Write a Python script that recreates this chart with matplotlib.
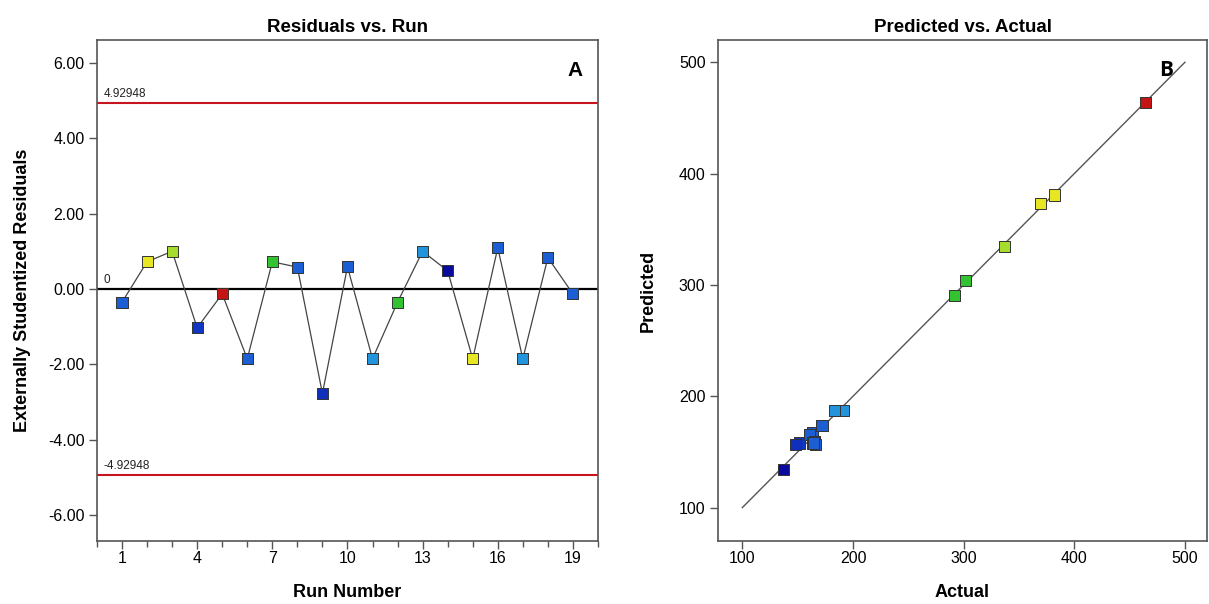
import matplotlib.pyplot as plt
from matplotlib.ticker import MultipleLocator, FixedLocator

plt.rcParams['font.family'] = ['Liberation Sans', 'DejaVu Sans']

# runs, residuals and colours (colour follows response value)
runs = list(range(1, 20))
residuals = [-0.35, 0.72, 1.00, -1.03, -0.13, -1.85, 0.72, 0.58, -2.77, 0.59,
             -1.85, -0.35, 1.00, 0.48, -1.85, 1.09, -1.85, 0.83, -0.13]
actual = [163, 382, 337, 152, 464, 161, 292, 163, 148, 165,
          184, 302, 191, 137, 369.5, 166, 183, 164, 172]
predicted = [167, 380.8, 334.5, 158, 464, 166, 290.7, 158, 157, 159,
             187, 304, 187, 134.5, 373, 157, 187, 158, 173.6]
colors = ['#1c5fd4', '#e6e622', '#a6dc2e', '#1236c4', '#c41414', '#1c5fd4',
          '#32c232', '#1c5fd4', '#1030bc', '#1c5fd4', '#2294dc', '#32c232',
          '#2294dc', '#0a0a9c', '#e6e622', '#1c5fd4', '#2294dc', '#1c5fd4',
          '#1c5fd4']
limit = 4.92948
y_ticks = [-6, -4, -2, 0, 2, 4, 6]
x_ticks = [1, 4, 7, 10, 13, 16, 19]
pa_ticks = [100, 200, 300, 400, 500]

fig = plt.figure(figsize=(12.09, 6.04), dpi=100)
ax1 = fig.add_axes([0.0802, 0.1043, 0.4144, 0.8295])
ax2 = fig.add_axes([0.5939, 0.1043, 0.4045, 0.8295])

# ---- A: residuals vs run
ax1.axhline(limit, color='#c8141e', lw=1.5, zorder=1)
ax1.axhline(-limit, color='#c8141e', lw=1.5, zorder=1)
ax1.axhline(0, color='black', lw=1.6, zorder=1)
ax1.plot(runs, residuals, color='#444444', lw=0.9, zorder=2)
ax1.scatter(runs, residuals, marker='s', s=64, c=colors, edgecolors='#333333',
            linewidths=0.7, zorder=3)
ax1.text(0.25, limit + 0.15, '4.92948', fontsize=8.5, color='#222222')
ax1.text(0.25, 0.15, '0', fontsize=8.5, color='#222222')
ax1.text(0.25, -limit + 0.15, '-4.92948', fontsize=8.5, color='#222222')
ax1.text(0.97, 0.94, 'A', transform=ax1.transAxes, fontsize=15, fontweight='bold',
         ha='right', va='center')

ax1.set_xlim(0, 20)
ax1.set_ylim(-6.68, 6.6)
ax1.xaxis.set_major_locator(FixedLocator(x_ticks))
ax1.xaxis.set_minor_locator(MultipleLocator(1))
ax1.set_yticks(y_ticks)
ax1.set_yticklabels([f'{v:.2f}' for v in y_ticks])
ax1.set_title('Residuals vs. Run', fontsize=13.5, fontweight='bold', pad=6)
ax1.set_xlabel('Run Number', fontsize=13, fontweight='bold', labelpad=13)
ax1.set_ylabel('Externally Studentized Residuals', fontsize=13, fontweight='bold',
               labelpad=12)

# ---- B: predicted vs actual
ax2.plot([100, 500], [100, 500], color='#555555', lw=1, zorder=1)
ax2.scatter(actual, predicted, marker='s', s=64, c=colors, edgecolors='#333333',
            linewidths=0.7, zorder=3)
ax2.text(0.93, 0.94, 'B', transform=ax2.transAxes, fontsize=15, fontweight='bold',
         ha='right', va='center', family=['Open Sans', 'DejaVu Sans'])
ax2.set_xlim(78, 520)
ax2.set_ylim(70, 520)
ax2.set_xticks(pa_ticks)
ax2.set_yticks(pa_ticks)
ax2.set_title('Predicted vs. Actual', fontsize=13.5, fontweight='bold', pad=6)
ax2.set_xlabel('Actual', fontsize=13, fontweight='bold', labelpad=13)
ax2.set_ylabel('Predicted', fontsize=13, fontweight='bold', labelpad=16)

for ax in (ax1, ax2):
    for sp in ax.spines.values():
        sp.set_color('#555555')
        sp.set_linewidth(1.2)
    ax.tick_params(which='major', direction='out', length=6, width=1, color='#555555',
                   labelsize=11.5, pad=1)
    ax.tick_params(which='minor', direction='out', length=4, width=1, color='#555555')
    ax.tick_params(axis='y', length=6, pad=3)

fig.savefig('out.png', dpi=100)
